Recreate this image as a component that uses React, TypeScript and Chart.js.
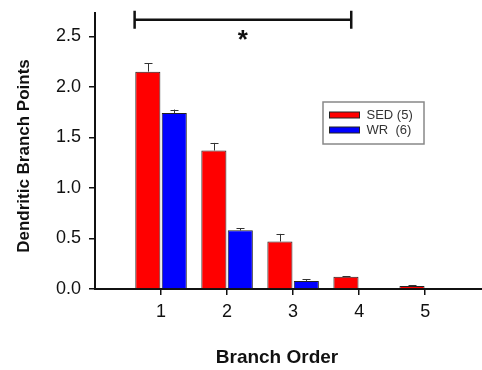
import React, { useEffect, useRef } from "react";
import { Chart, registerables } from "chart.js";

Chart.register(...registerables);

const categories = [1, 2, 3, 4, 5];
const sedValues = [2.15, 1.37, 0.47, 0.12, 0.03];
const sedErrors = [0.085, 0.075, 0.075, 0.008, 0.006];
const wrValues = [1.74, 0.58, 0.08, 0, 0];
const wrErrors = [0.035, 0.02, 0.016, 0, 0];
const yTicks = [0, 0.5, 1.0, 1.5, 2.0, 2.5];
const seriesLabels = ["SED (5)", "WR  (6)"];
const seriesColors = ["#ff0000", "#0000ff"];
const sigBracket = { from: 0.6, to: 3.88, level: 2.663, starLevel: 2.51, label: "*" };
const xTitle = "Branch Order";
const yTitle = "Dendritic Branch Points";

const errorBarPlugin = {
  id: "errorBars",
  afterDatasetsDraw(chart: any) {
    const ctx = chart.ctx;
    const yScale = chart.scales.y;
    chart.data.datasets.forEach((ds: any, di: number) => {
      const meta = chart.getDatasetMeta(di);
      const errs = ds.errors as number[];
      meta.data.forEach((el: any, i: number) => {
        const v = ds.data[i].y;
        const e = errs[i];
        if (!v || !e) return;
        const top = yScale.getPixelForValue(v + e);
        ctx.save();
        ctx.strokeStyle = "#333";
        ctx.lineWidth = 1;
        ctx.beginPath();
        const x = Math.round(el.x) + 0.5;
        ctx.moveTo(x, el.y);
        ctx.lineTo(x, top);
        ctx.moveTo(x - 4, Math.round(top) + 0.5);
        ctx.lineTo(x + 4, Math.round(top) + 0.5);
        ctx.stroke();
        ctx.restore();
      });
    });
  },
};

const decorPlugin = {
  id: "decor",
  afterDraw(chart: any) {
    const ctx = chart.ctx;
    const xs = chart.scales.x;
    const ys = chart.scales.y;
    ctx.save();
    // significance bracket
    const x1 = xs.getPixelForValue(sigBracket.from);
    const x2 = xs.getPixelForValue(sigBracket.to);
    const yb = ys.getPixelForValue(sigBracket.level);
    ctx.strokeStyle = "#111";
    ctx.lineWidth = 2.5;
    ctx.beginPath();
    ctx.moveTo(x1, yb);
    ctx.lineTo(x2, yb);
    ctx.moveTo(x1, yb - 9);
    ctx.lineTo(x1, yb + 9);
    ctx.moveTo(x2, yb - 9);
    ctx.lineTo(x2, yb + 9);
    ctx.stroke();
    // asterisk
    ctx.fillStyle = "#111";
    ctx.font = "bold 26px 'Liberation Sans', Arial, sans-serif";
    ctx.textAlign = "center";
    ctx.textBaseline = "alphabetic";
    const m = ctx.measureText(sigBracket.label);
    const cy = ys.getPixelForValue(sigBracket.starLevel);
    const asc = m.actualBoundingBoxAscent;
    const desc = m.actualBoundingBoxDescent;
    ctx.fillText(sigBracket.label, (x1 + x2) / 2, cy + (asc - desc) / 2);

    // axis titles
    ctx.fillStyle = "#111";
    ctx.font = "bold 19px 'Liberation Sans', Arial, sans-serif";
    ctx.textAlign = "center";
    ctx.textBaseline = "middle";
    ctx.fillText(xTitle, 277, 358);
    ctx.save();
    ctx.translate(24, 156);
    ctx.rotate(-Math.PI / 2);
    ctx.font = "bold 17px 'Liberation Sans', Arial, sans-serif";
    ctx.fillText(yTitle, 0, 0);
    ctx.restore();

    // legend
    const bx = 323, by = 102, bw = 101, bh = 42;
    ctx.fillStyle = "#fff";
    ctx.fillRect(bx, by, bw, bh);
    ctx.strokeStyle = "#888";
    ctx.lineWidth = 1.5;
    ctx.strokeRect(bx, by, bw, bh);
    ctx.font = "13px 'Liberation Sans', Arial, sans-serif";
    ctx.textAlign = "left";
    ctx.textBaseline = "middle";
    seriesLabels.forEach((lab, i) => {
      const cyy = 115 + i * 15;
      ctx.fillStyle = seriesColors[i];
      ctx.fillRect(329.5, cyy - 3, 30, 6);
      ctx.strokeStyle = "#222";
      ctx.lineWidth = 1;
      ctx.strokeRect(329.5, cyy - 3, 30, 6);
      ctx.fillStyle = "#333";
      ctx.fillText(lab, 366.5, cyy);
    });
    ctx.restore();
  },
};

export default function App() {
  const ref = useRef<HTMLCanvasElement>(null);
  useEffect(() => {
    document.body.style.margin = "0";
    const canvas = ref.current;
    if (!canvas) return;
    const chart = new Chart(canvas, {
      type: "bar",
      data: {
        datasets: [
          {
            label: seriesLabels[0],
            data: categories.map((c, i) => ({ x: c, y: sedValues[i] })),
            backgroundColor: seriesColors[0],
            borderColor: "#222",
            borderWidth: 1,
            errors: sedErrors,
          } as any,
          {
            label: seriesLabels[1],
            data: categories.map((c, i) => ({ x: c, y: wrValues[i] })),
            backgroundColor: seriesColors[1],
            borderColor: "#222",
            borderWidth: 1,
            errors: wrErrors,
          } as any,
        ],
      },
      options: {
        responsive: false,
        animation: false,
        devicePixelRatio: 1,
        layout: { padding: { top: 13, left: 0, right: 0, bottom: 0 } },
        datasets: { bar: { categoryPercentage: 0.8, barPercentage: 0.95 } },
        plugins: { legend: { display: false }, tooltip: { enabled: false } },
        scales: {
          x: {
            type: "linear",
            min: 0,
            max: 5.86,
            offset: false,
            afterBuildTicks: (s: any) => {
              s.ticks = categories.map((v) => ({ value: v }));
            },
            afterFit: (s: any) => {
              s.height = 81;
              s.paddingLeft = 0;
              s.paddingRight = 0;
            },
            border: { display: true, color: "#111", width: 2 },
            grid: { offset: false, drawOnChartArea: false, drawTicks: true, tickLength: 6, color: "#111", lineWidth: 1.5 },
            ticks: {
              font: { family: "'Liberation Sans', Arial, sans-serif", size: 18 },
              color: "#111",
              padding: 6,
              callback: (v: any) => String(v),
            },
          },
          y: {
            type: "linear",
            min: 0,
            max: 2.73,
            afterBuildTicks: (s: any) => {
              s.ticks = yTicks.map((v) => ({ value: v }));
            },
            afterFit: (s: any) => {
              s.width = 95;
              s.paddingTop = 0;
              s.paddingBottom = 0;
            },
            border: { display: true, color: "#111", width: 2 },
            grid: { drawOnChartArea: false, drawTicks: true, tickLength: 6, color: "#111", lineWidth: 1.5 },
            ticks: {
              font: { family: "'Liberation Sans', Arial, sans-serif", size: 18 },
              color: "#111",
              padding: 8,
              callback: (v: any) => Number(v).toFixed(1),
            },
          },
        },
      },
      plugins: [errorBarPlugin, decorPlugin],
    } as any);
    return () => chart.destroy();
  }, []);
  return (
    <div style={{ width: 482, height: 370, position: "relative" }}>
      <canvas ref={ref} width={482} height={370} style={{ display: "block" }} />
    </div>
  );
}
